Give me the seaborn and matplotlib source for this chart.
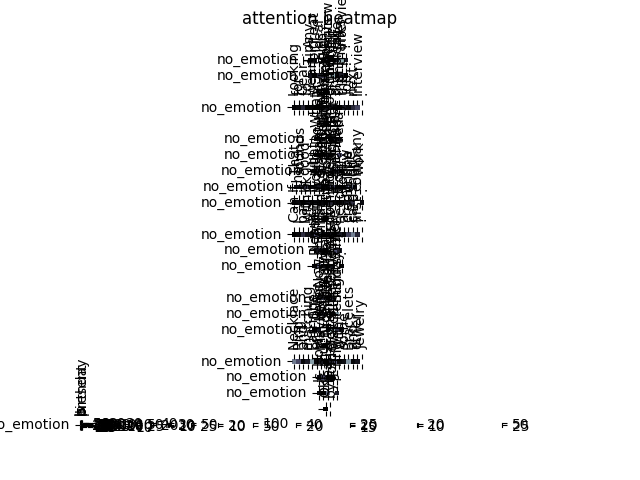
import matplotlib
matplotlib.use('Agg')
import matplotlib.pyplot as plt
import seaborn as sns
import numpy as np
import pandas as pd

# --- data: one row of attention scores per sentence ---
labels = ['no_emotion', 'no_emotion', '', 'no_emotion', '', 'no_emotion',
          'no_emotion', 'no_emotion', 'no_emotion', 'no_emotion', '', 'no_emotion',
          'no_emotion', 'no_emotion', '', 'no_emotion', 'no_emotion', 'no_emotion',
          '', 'no_emotion', 'no_emotion', 'no_emotion', '', 'no_emotion']

tokens = [
    ['Any', 'great', 'deal', 'on', 'suits', 'for', 'my', 'Interview', '?'],
    ['Tips', 'for', 'a', 'job', 'Interview', 'outfit', 'please', 'thanks', '!'],
    ['Hello', 'there'],
    ['Looking', 'for', 'Gear', 'to', 'wear', 'at', 'my', 'formal', 'dinner', 'and',
     'then', 'the', 'job', 'next', 'Interview', '.'],
    ['Thank', 'you'],
    ['What', 'about', 'shoes', 'for', 'that', 'day'],
    ['Do', 'you', 'have', 'a', 'blue', 'tie'],
    ['I', 'want', 'something', 'simple', 'and', 'cheap', '.'],
    ['That', 'sounds', 'good', ',', 'what', 'else', 'would', 'you', 'suggest',
     'for', 'a', 'new', 'hire', 'at', 'work'],
    ['If', 'That', 'is', 'ok', 'I', 'would', 'like', 'to', 'order', 'it', 'from',
     'your', 'online', 'shop', 'company', '.'],
    ['Sure', 'thing'],
    ['Can', 'I', 'pay', 'with', 'a', 'gift', 'card', 'or', 'do', 'I', 'need', 'a',
     'credit', 'card', 'first', '?'],
    ['When', 'will', 'it', 'arrive', 'here', '?'],
    ['Please', 'ship', 'it', 'to', 'my', 'office', '.'],
    ['Great', 'thanks'],
    ['Now', 'show', 'me', 'some', 'gifts'],
    ['For', 'my', 'wife', 'on', 'Sunday'],
    ['She', 'loves', 'Gold', 'and', 'Silver', 'items', '.'],
    ['Nice', 'one'],
    ['Necklace', 'Ring', 'and', 'matching', 'Earrings', 'or', 'maybe', 'a', 'nice',
     'Watch', 'with', 'some', 'Bracelets', 'and', 'other', 'Jewelry'],
    ['How', 'much', 'is', 'the', 'ring'],
    ['Is', 'it', 'real', 'gold', '?'],
    ['Ok', 'bye'],
    ['It', 'is', 'a', 'birthday', 'present', '.'],
]

scores = [
    [3, 5, 58, 4, 12, 2, 6, 40, 8],
    [4, 2, 6, 9, 26, 18, 3, 5, 2],
    [11, 27],
    [2, 3, 8, 1, 2, 1, 3, 5, 4, 2, 1, 6, 3, 9, 14, 45],
    [20, 105],
    [3, 6, 28, 2, 9, 4],
    [5, 3, 8, 4, 55, 21],
    [2, 9, 4, 33, 3, 12, 1],
    [4, 6, 9, 2, 3, 5, 2, 3, 12, 2, 1, 7, 19, 3, 40],
    [2, 3, 1, 6, 2, 4, 3, 2, 11, 3, 2, 5, 8, 14, 60, 4],
    [6, 24],
    [1, 2, 7, 3, 2, 12, 18, 2, 3, 1, 4, 2, 9, 16, 6, 30],
    [4, 8, 2, 26, 11, 5],
    [3, 21, 4, 2, 6, 48, 3],
    [14, 30],
    [5, 13, 2, 9, 27],
    [3, 6, 22, 4, 15],
    [2, 5, 36, 3, 28, 9, 4],
    [9, 23],
    [18, 12, 2, 5, 22, 2, 4, 1, 6, 14, 2, 3, 21, 2, 4, 35],
    [4, 10, 3, 2, 26],
    [3, 2, 12, 24, 5],
    [7, 20],
    [2, 3, 1, 9, 50, 4],
]

# --- figure: one thin subplot per sentence ---
fig, axes = plt.subplots(len(scores), 1, figsize=(6.4, 4.8), dpi=100)
plt.subplots_adjust(hspace=2.5)

for ax, lab, tok, sc in zip(axes, labels, tokens, scores):
    df = pd.DataFrame([sc], index=[lab], columns=tok)
    sns.heatmap(df, ax=ax, cmap='bone', square=True, cbar=False,
                xticklabels=tok, yticklabels=[lab])
    ax.tick_params(axis='x', top=True, labeltop=True, bottom=True, labelbottom=False)
    plt.setp(ax.get_xticklabels(), rotation=90)
    ax.set_yticklabels([lab], rotation=0)
    ax.set_xlabel('')
    ax.set_ylabel('')
    # colorbar goes to the current (last) axes
    fig.colorbar(ax.collections[0], ax=axes[-1])

fig.suptitle('attention heatmap')
plt.savefig('out.png')
